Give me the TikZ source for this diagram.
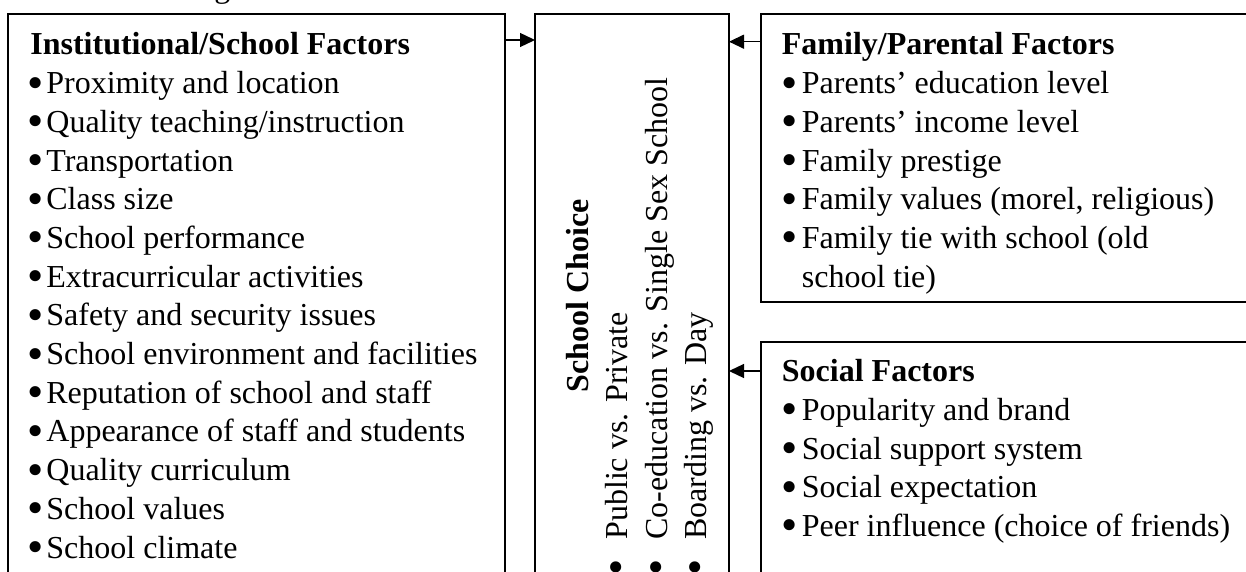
\documentclass[tikz,border=0pt]{standalone}
\usepackage{fontspec}
\setmainfont{Liberation Serif}
\usetikzlibrary{arrows.meta}
\newcommand{\bigdot}{\smash{\raisebox{-0.14em}{\scalebox{1.45}{\textbullet}}}}
\newcommand{\lbul}{\makebox[9pt][l]{\hspace{-0.6pt}\bigdot}}
\newcommand{\rbul}{\makebox[10pt][l]{\hspace{-0.4pt}\bigdot}}
\newcommand{\mbul}{\makebox[17.5pt][l]{\hspace{-0.6pt}\bigdot}}
\begin{document}
\begin{tikzpicture}[x=0.5pt,y=-0.5pt,
  box/.style={draw, line width=1pt, anchor=north west, inner sep=0pt, outer sep=0pt},
  arr/.style={line width=0.65pt, -{Triangle[length=7.5pt,width=7pt]}},
  txt/.style={inner sep=0pt, anchor=base west, font=\fontsize{16}{19.35}\selectfont},
  ]
\useasboundingbox (0,0) rectangle (1246,572);
% boxes (cropped by the page)
\node[box, minimum width=248.5pt, minimum height=343pt] (left) at (8,14) {};
\node[box, minimum width=97pt, minimum height=343pt] (mid) at (535,14) {};
\node[box, minimum width=269.5pt, minimum height=144pt] (fam) at (761,14) {};
\node[box, minimum width=269.5pt, minimum height=179pt] (soc) at (761,342) {};
% cut-off heading line above
\node[txt] (cap) at (214,-2) {g};
% connectors
\draw[arr] ([yshift=-13pt]left.north east) -- ([yshift=-13pt]mid.north west);
\coordinate (f1) at ([yshift=-13.85pt]fam.north west);
\draw[arr] (f1) -- (f1 -| mid.east);
\coordinate (s1) at ([yshift=-14.5pt]soc.north west);
\draw[arr] (s1) -- (s1 -| mid.east);
% left text
\node[txt] (lt) at (28,55) {\begin{tabular}[t]{@{}l@{}}
\hspace{1pt}\textbf{Institutional/School Factors}\\
\lbul Proximity and location\\
\lbul Quality teaching/instruction\\
\lbul Transportation\\
\lbul Class size\\
\lbul School performance\\
\lbul Extracurricular activities\\
\lbul Safety and security issues\\
\lbul School environment and facilities\\
\lbul Reputation of school and staff\\
\lbul Appearance of staff and students\\
\lbul Quality curriculum\\
\lbul School values\\
\lbul School climate
\end{tabular}};
% family text
\node[txt] (ft) at (781.5,55) {\begin{tabular}[t]{@{}l@{}}
\textbf{Family/Parental Factors}\\
\rbul Parents’ education level\\
\rbul Parents’ income level\\
\rbul Family prestige\\
\rbul Family values (morel, religious)\\
\rbul Family tie with school (old\\
\hspace{10pt}school tie)
\end{tabular}};
% social text
\node[txt] (st) at (781.5,381.7) {\begin{tabular}[t]{@{}l@{}}
\textbf{Social Factors}\\
\rbul Popularity and brand\\
\rbul Social support system\\
\rbul Social expectation\\
\rbul Peer influence (choice of friends)
\end{tabular}};
% middle rotated text
\node[txt, rotate=90, anchor=base] (mt) at (588,296) {\textbf{School Choice}};
\node[txt, rotate=90] (m1) at (627.5,575) {\mbul Public vs. Private};
\node[txt, rotate=90] (m2) at (667,575) {\mbul Co-education vs. Single Sex School};
\node[txt, rotate=90] (m3) at (706.5,575) {\mbul Boarding vs. Day};
\end{tikzpicture}
\end{document}
